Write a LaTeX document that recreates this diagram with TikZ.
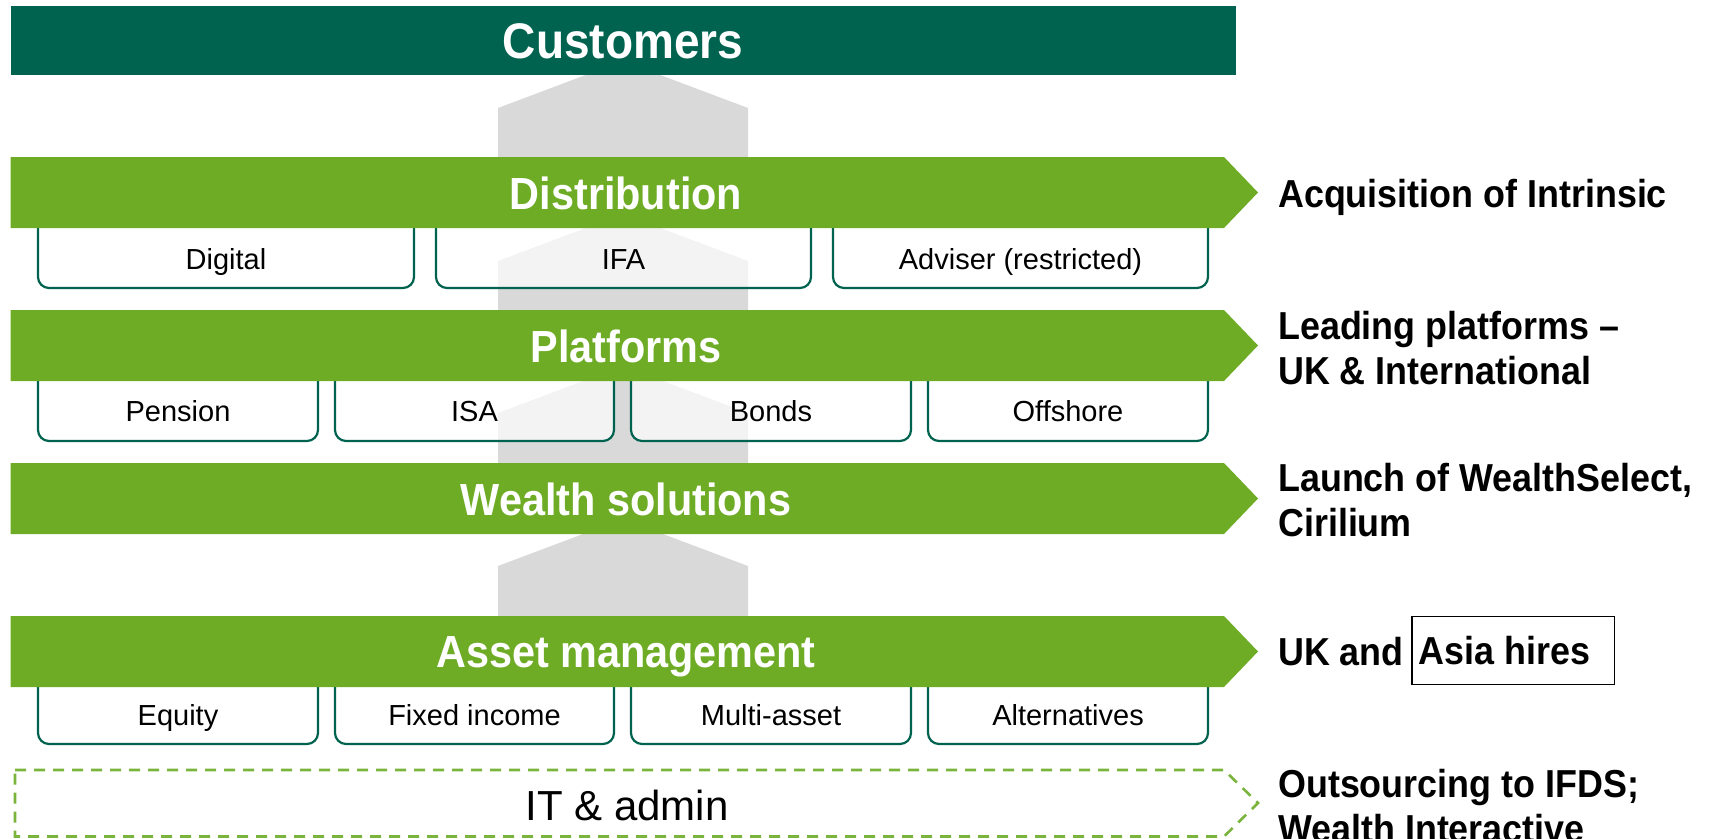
\documentclass[tikz,border=0pt]{standalone}
\usepackage{fontspec}
\setmainfont{Liberation Sans}
\newfontfamily\headfont{Liberation Sans}[FakeStretch=0.92]
\definecolor{custgreen}{RGB}{0,99,79}
\definecolor{bargreen}{RGB}{111,172,38}
\definecolor{dashgreen}{RGB}{122,180,60}
\definecolor{stripegrey}{RGB}{217,217,217}
\begin{document}
\begin{tikzpicture}[x=1pt,y=-1pt,
  chevron/.style={fill=stripegrey},
  custbar/.style={fill=custgreen},
  layerbar/.style={fill=bargreen},
  subbox/.style={draw=custgreen, line width=2.2pt, fill=white, fill opacity=0.7, rounded corners=11pt},
  itbox/.style={draw=dashgreen, line width=2.6pt, dash pattern=on 11pt off 8pt},
  barlabel/.style={anchor=base, text=white, font=\headfont\bfseries\fontsize{45}{50}\selectfont},
  sublabel/.style={anchor=base, text=black, font=\fontsize{29}{33}\selectfont},
  note/.style={anchor=base west, text=black, align=left, inner sep=0pt,
    font=\headfont\bfseries\fontsize{39}{45}\selectfont}
]
\useasboundingbox (0,0) rectangle (1723,838);

% upward chevrons running behind the layers
\foreach \s/\b in {108/200, 261/350, 413/500, 566/650}{
  \fill[chevron] (498,\b) -- (498,\s) -- (623,\s-47) -- (748,\s) -- (748,\b) -- cycle;
}

% sub-boxes hanging under the layers
\foreach \a/\b in {38/414, 436/811, 833/1208}{
  \path[subbox] (\a,200) rectangle (\b,288);
}
\foreach \a/\b in {38/318, 335/614, 631/911, 928/1208}{
  \path[subbox] (\a,350) rectangle (\b,441);
  \path[subbox] (\a,655) rectangle (\b,744);
}

% customers bar
\fill[custbar] (11,6) rectangle (1236,75);
\node[barlabel, font=\headfont\bfseries\fontsize{50}{55}\selectfont] (customers) at (623,58) {Customers};

% layer bars
\foreach \t in {157, 310, 463, 616}{
  \fill[layerbar] (10.5,\t) -- (1224,\t) -- (1258,\t+35.5) -- (1224,\t+71) -- (10.5,\t+71) -- cycle;
}
\node[barlabel] (distribution) at (626,209) {Distribution};
\node[barlabel] (platforms) at (626,362) {Platforms};
\node[barlabel] (wealth) at (626,515) {Wealth solutions};
\node[barlabel] (asset) at (626,667) {Asset management};

% sub-box labels
\node[sublabel] (digital) at (226,269) {Digital};
\node[sublabel] (ifa) at (623.5,269) {IFA};
\node[sublabel] (adviser) at (1020.5,269) {Adviser (restricted)};

\node[sublabel] (pension) at (178,421) {Pension};
\node[sublabel] (isa) at (474.5,421) {ISA};
\node[sublabel] (bonds) at (771,421) {Bonds};
\node[sublabel] (offshore) at (1068,421) {Offshore};

\node[sublabel] (equity) at (178,725) {Equity};
\node[sublabel] (fixed) at (474.5,725) {Fixed income};
\node[sublabel] (multi) at (771,725) {Multi-asset};
\node[sublabel] (alternatives) at (1068,725) {Alternatives};

% IT & admin dashed arrow
\draw[itbox] (15,770) -- (1224,770) -- (1258,803) -- (1224,836.5) -- (15,836.5) -- cycle;
\node[sublabel, font=\fontsize{42}{46}\selectfont] (itadmin) at (627,820) {IT \& admin};

% notes on the right (multi-line nodes sit on the baseline of their last line)
\node[note] (acq) at (1278,207) {Acquisition of Intrinsic};
\node[note] (lead) at (1278,384) {Leading platforms –\\UK \& International};
\node[note] (launch) at (1278,536) {Launch of WealthSelect,\\Cirilium};
\node[note] (ukand) at (1278,665) {UK and};
\node[note, draw=black, line width=1.5pt, inner xsep=7pt, inner ysep=0pt,
  minimum height=68pt, text depth=0pt, anchor=west, minimum width=197pt, align=left]
  (asia) at (1411,650.5) {Asia hires\hspace*{17pt}};
\node[note] (outsource) at (1278,842) {Outsourcing to IFDS;\\Wealth Interactive};
\end{tikzpicture}
\end{document}
